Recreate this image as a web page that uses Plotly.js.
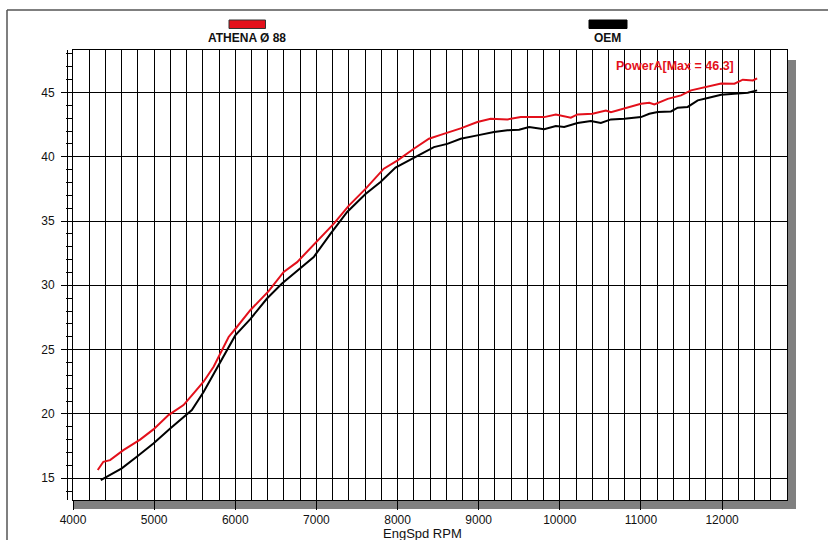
<!DOCTYPE html>
<html>
<head>
<meta charset="utf-8">
<script src="https://cdn.plot.ly/plotly-3.0.1.min.js"></script>
<style>
html,body{margin:0;padding:0;background:#fff;}
#chart{width:828px;height:540px;}
</style>
</head>
<body>
<div id="chart"></div>
<script>
// ---- data ----
const seriesNames = ["ATHENA Ø 88", "OEM"];
const seriesColors = ["#e3101b", "#000000"];

const athenaRpm = [4305, 4374, 4457, 4621, 4827, 4991, 5177, 5362, 5486, 5609, 5733, 5815, 5918, 6000, 6103, 6185, 6411, 6597, 6762, 7009, 7215, 7400, 7605, 7831, 7996, 8201, 8387, 8531, 8613, 8778, 8984, 9148, 9354, 9519, 9807, 9951, 10136, 10218, 10403, 10568, 10630, 10774, 11000, 11103, 11165, 11330, 11494, 11617, 11782, 11988, 12152, 12255, 12379, 12432];
const athenaPower = [15.63, 16.27, 16.4, 17.18, 18.0, 18.79, 19.9, 20.68, 21.6, 22.5, 23.66, 24.7, 25.98, 26.6, 27.4, 28.06, 29.55, 31.04, 31.8, 33.4, 34.8, 36.2, 37.5, 39.07, 39.7, 40.62, 41.4, 41.7, 41.85, 42.2, 42.7, 42.96, 42.9, 43.08, 43.08, 43.29, 43.03, 43.29, 43.34, 43.6, 43.47, 43.73, 44.12, 44.2, 44.07, 44.5, 44.77, 45.16, 45.4, 45.7, 45.68, 45.99, 45.93, 46.1];

const oemRpm = [4342, 4457, 4601, 4786, 4991, 5198, 5362, 5465, 5609, 5794, 6000, 6185, 6391, 6576, 6802, 6967, 7173, 7379, 7605, 7790, 7975, 8201, 8448, 8613, 8778, 8984, 9189, 9354, 9498, 9621, 9807, 9951, 10054, 10218, 10383, 10506, 10630, 10794, 11000, 11103, 11206, 11370, 11453, 11576, 11700, 11823, 11988, 12152, 12317, 12432];
const oemPower = [14.85, 15.24, 15.76, 16.67, 17.7, 18.87, 19.77, 20.29, 21.7, 23.79, 26.1, 27.37, 28.97, 30.14, 31.3, 32.2, 34.0, 35.7, 37.1, 38.03, 39.15, 39.9, 40.75, 41.0, 41.4, 41.66, 41.92, 42.05, 42.1, 42.31, 42.13, 42.38, 42.31, 42.62, 42.78, 42.62, 42.9, 42.96, 43.08, 43.34, 43.47, 43.52, 43.81, 43.87, 44.38, 44.56, 44.82, 44.9, 44.98, 45.16];

const xTitle = "EngSpd RPM";
const maxLabel = "PowerA[Max = 46.3]";

// ---- layout helpers (pixel -> paper) ----
const W = 828, H = 540;
const M = {l: 73, r: 41, t: 50, b: 40};
const PW = W - M.l - M.r, PH = H - M.t - M.b;
const px = p => (p - M.l) / PW;
const py = p => (H - M.b - p) / PH;

const FONT = "Liberation Sans, Arial, sans-serif";

const traces = [
  {x: athenaRpm, y: athenaPower, name: seriesNames[0], mode: "lines",
   line: {color: seriesColors[0], width: 2}},
  {x: oemRpm, y: oemPower, name: seriesNames[1], mode: "lines",
   line: {color: seriesColors[1], width: 2}}
];

const shapes = [
  // outer frame (top & left)
  {type: "line", xref: "paper", yref: "paper", x0: px(7), x1: px(W + 5), y0: py(10), y1: py(10),
   line: {color: "#555", width: 1.5}, layer: "below"},
  {type: "line", xref: "paper", yref: "paper", x0: px(7), x1: px(7), y0: py(10), y1: py(H + 5),
   line: {color: "#555", width: 1.5}, layer: "below"},
  // drop shadow
  {type: "rect", xref: "paper", yref: "paper", x0: px(787.5), x1: px(796), y0: py(509), y1: py(60),
   fillcolor: "#808080", line: {width: 0}, layer: "below"},
  {type: "rect", xref: "paper", yref: "paper", x0: px(73), x1: px(796), y0: py(509), y1: py(500.5),
   fillcolor: "#808080", line: {width: 0}, layer: "below"},
  // ladder line of minor y ticks
  {type: "line", xref: "paper", yref: "paper", x0: px(67.5), x1: px(67.5), y0: py(500), y1: py(50),
   line: {color: "#000", width: 1}},
  // legend swatches
  {type: "rect", xref: "paper", yref: "paper", x0: px(229), x1: px(265.5), y0: py(28.5), y1: py(20),
   fillcolor: seriesColors[0], line: {color: "#333", width: 1}},
  {type: "rect", xref: "paper", yref: "paper", x0: px(589), x1: px(627), y0: py(28.5), y1: py(20),
   fillcolor: seriesColors[1], line: {color: "#000", width: 1}}
];

const annotations = [
  {xref: "paper", yref: "paper", x: px(247), y: py(38), text: "<b>" + seriesNames[0] + "</b>",
   showarrow: false, xanchor: "center", yanchor: "middle", font: {family: FONT, size: 12, color: "#111"}},
  {xref: "paper", yref: "paper", x: px(607), y: py(38), text: "<b>" + seriesNames[1] + "</b>",
   showarrow: false, xanchor: "center", yanchor: "middle", font: {family: FONT, size: 12, color: "#111"}},
  {xref: "paper", yref: "paper", x: px(675), y: py(65.5), text: "<b>" + maxLabel + "</b>",
   showarrow: false, xanchor: "center", yanchor: "middle", font: {family: FONT, size: 12.5, color: seriesColors[0]}},
  {xref: "paper", yref: "paper", x: px(422), y: py(533), text: xTitle,
   showarrow: false, xanchor: "center", yanchor: "middle", font: {family: FONT, size: 13, color: "#111"}}
];

const layout = {
  width: W, height: H,
  margin: M,
  paper_bgcolor: "#fff",
  plot_bgcolor: "#fff",
  showlegend: false,
  font: {family: FONT, size: 12, color: "#111"},
  xaxis: {
    range: [4000, 12800],
    tick0: 4000, dtick: 1000,
    tickformat: "d",
    ticks: "outside", ticklen: 9, tickcolor: "#000", tickwidth: 1,
    showgrid: true, gridcolor: "#000", gridwidth: 1,
    minor: {dtick: 200, tick0: 4000, showgrid: true, gridcolor: "#000", gridwidth: 1, ticks: ""},
    showline: true, linecolor: "#000", linewidth: 1, mirror: true,
    zeroline: false,
    tickfont: {family: FONT, size: 12, color: "#111"},
    fixedrange: true
  },
  yaxis: {
    range: [13.3, 48.3],
    tick0: 0, dtick: 5,
    tickformat: "d",
    ticks: "outside", ticklen: 11, tickcolor: "#000", tickwidth: 1,
    showgrid: true, gridcolor: "#000", gridwidth: 1,
    minor: {dtick: 1, tick0: 0, ticks: "outside", ticklen: 6, tickcolor: "#000", tickwidth: 1, showgrid: false},
    showline: true, linecolor: "#000", linewidth: 1, mirror: true,
    zeroline: false,
    ticklabelstandoff: 4,
    tickfont: {family: FONT, size: 12, color: "#111"},
    fixedrange: true
  },
  shapes: shapes,
  annotations: annotations
};

Plotly.newPlot("chart", traces, layout, {displayModeBar: false, staticPlot: true});
</script>
</body>
</html>
